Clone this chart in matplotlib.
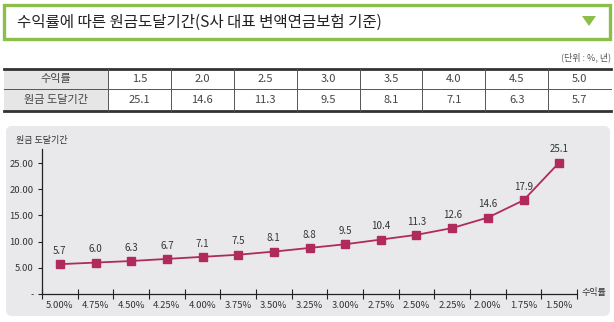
import matplotlib
matplotlib.use("Agg")
import matplotlib.pyplot as plt
from matplotlib.patches import Rectangle, FancyBboxPatch, Polygon

plt.rcParams['font.family'] = ['Noto Sans CJK KR', 'DejaVu Sans']

# table data
table_rates = ["1.5", "2.0", "2.5", "3.0", "3.5", "4.0", "4.5", "5.0"]
table_years = ["25.1", "14.6", "11.3", "9.5", "8.1", "7.1", "6.3", "5.7"]
row_heads = ["수익률", "원금 도달기간"]

# chart data
x_labels = ["5.00%", "4.75%", "4.50%", "4.25%", "4.00%", "3.75%", "3.50%", "3.25%",
            "3.00%", "2.75%", "2.50%", "2.25%", "2.00%", "1.75%", "1.50%"]
years = [5.7, 6.0, 6.3, 6.7, 7.1, 7.5, 8.1, 8.8, 9.5, 10.4, 11.3, 12.6, 14.6, 17.9, 25.1]

W, H = 614, 322
fig = plt.figure(figsize=(W / 100, H / 100), dpi=100)
fig.patch.set_facecolor("white")

# full-figure canvas in pixel coordinates for the decorations
bg = fig.add_axes([0, 0, 1, 1])
bg.set_xlim(0, W)
bg.set_ylim(H, 0)
bg.axis("off")

green = "#8cbf4a"
txt = "#333333"

# title box
bg.add_patch(Rectangle((4, 5), 606, 34, fill=False, edgecolor=green, lw=2.4))
bg.text(17, 22, "수익률에 따른 원금도달기간(S사 대표 변액연금보험 기준)",
        fontsize=11.2, color="#222222", va="center", ha="left")
bg.add_patch(Polygon([(582, 16), (596, 16), (589, 26)], closed=True,
                     facecolor=green, edgecolor="none"))

# unit
bg.text(611, 57, "(단위 : %, 년)", fontsize=6.5, color="#555555", ha="right", va="center")

# table
tx0, tx1 = 4, 611
ty0, tmid, ty1 = 69, 89, 111
c0 = 108
cw = (tx1 - c0) / len(table_rates)
bg.add_patch(Rectangle((tx0, ty0), c0 - tx0, ty1 - ty0, facecolor="#e6e6e6", edgecolor="none"))
bg.plot([tx0, tx1], [ty0, ty0], color="#333333", lw=2)
bg.plot([tx0, tx1], [ty1, ty1], color="#333333", lw=2)
bg.plot([tx0, tx1], [tmid, tmid], color="#555555", lw=0.7)
for i in range(len(table_rates)):
    x = c0 + i * cw
    bg.plot([x, x], [ty0, ty1], color="#555555", lw=0.7)
rows_y = [(ty0 + tmid) / 2, (tmid + ty1) / 2]
for r, head in enumerate(row_heads):
    bg.text((tx0 + c0) / 2, rows_y[r], head, fontsize=8, color="#444444", ha="center", va="center")
for i in range(len(table_rates)):
    cx = c0 + (i + 0.5) * cw
    bg.text(cx, rows_y[0], table_rates[i], fontsize=8, color="#444444", ha="center", va="center")
    bg.text(cx, rows_y[1], table_years[i], fontsize=8, color="#444444", ha="center", va="center")

# chart panel
bg.add_patch(FancyBboxPatch((6, 126), 604, 190, boxstyle="round,pad=0,rounding_size=6",
                            facecolor="#e9e9eb", edgecolor="none"))

# chart axes
ax_l, ax_r, ax_t, ax_b = 42, 577, 149, 294
ax = fig.add_axes([ax_l / W, (H - ax_b) / H, (ax_r - ax_l) / W, (ax_b - ax_t) / H])
ax.patch.set_alpha(0)
xs = list(range(len(years)))
mc = "#b02a5b"
ax.plot(xs, years, color=mc, lw=1.3, marker="s", markersize=6,
        markerfacecolor=mc, markeredgecolor=mc)
for x, v in zip(xs, years):
    ax.annotate(f"{v:.1f}", (x, v), xytext=(0, 6), textcoords="offset points",
                ha="center", va="bottom", fontsize=7, color=txt)

ax.set_xlim(-0.5, len(years) - 0.5)
ax.set_ylim(0, 27.7)
ax.set_xticks([i - 0.5 for i in range(len(years) + 1)])
ax.set_xticklabels([])
ax.set_xticks(xs, minor=True)
ax.set_xticklabels(x_labels, minor=True)
ax.tick_params(axis="x", which="major", direction="inout", length=7, width=0.8, color="#222222")
ax.tick_params(axis="x", which="minor", length=0, labelsize=6.8, labelcolor=txt, pad=5)

yt = [0, 5, 10, 15, 20, 25]
ax.set_yticks(yt)
ax.set_yticklabels(["-"] + [f"{v:.2f}" for v in yt[1:]])
ax.tick_params(axis="y", direction="out", length=3, width=0.8, labelsize=6.8,
               labelcolor=txt, color="#222222", pad=3)

for s in ["top", "right"]:
    ax.spines[s].set_visible(False)
for s in ["left", "bottom"]:
    ax.spines[s].set_color("#222222")
    ax.spines[s].set_linewidth(0.9)

bg.text(ax_l, 140, "원금 도달기간", fontsize=6.5, color=txt, ha="center", va="center")
bg.text(582, 293, "수익률", fontsize=6.5, color=txt, ha="left", va="center")

fig.savefig("out.png", dpi=100)
